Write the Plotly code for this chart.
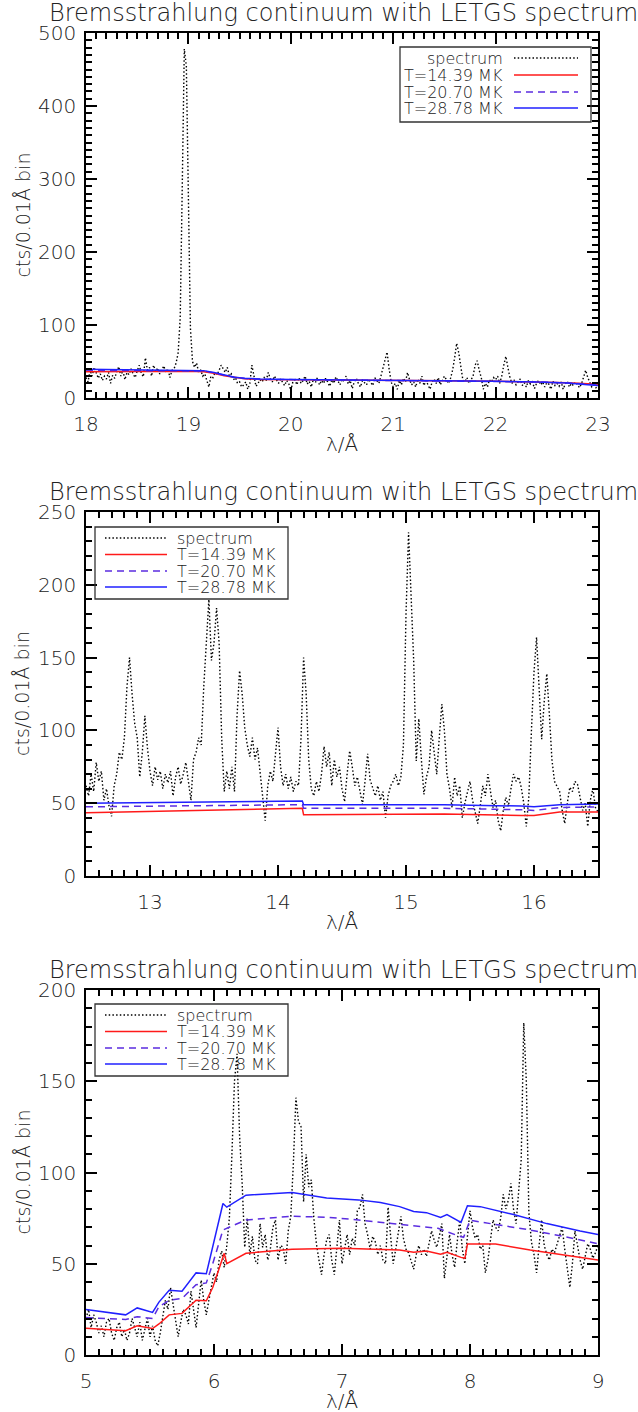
import numpy as np
import plotly.graph_objects as go

W, H = 638, 1412
FONT = "DejaVu Sans"
INK = "#222222"
AXIS = "#000000"
RED = "#ff1a1a"
PURPLE = "#5b2de0"
BLUE = "#2020ff"

TITLE = "Bremsstrahlung continuum with LETGS spectrum"
XTITLE = "λ/Å"
YTITLE = "cts/0.01Å bin"
LEG_NAMES = ["spectrum", "T=14.39 MK", "T=20.70 MK", "T=28.78 MK"]

# ---------------- panel 1 : 18 - 23 Å ----------------
wl1_start, wl1_step = 18.0, 0.02
spec1 = [
    28, 22, 38, 30, 42, 35, 27, 33, 24, 30,
    26, 35, 20, 31, 27, 36, 43, 30, 38, 25,
    35, 32, 40, 33, 28, 37, 45, 34, 29, 55,
    38, 42, 30, 45, 36, 41, 33, 38, 44, 35,
    40, 28, 38, 40, 48, 62, 110, 290, 478, 455,
    300, 95, 50, 42, 48, 35, 38, 30, 33, 25,
    15, 30, 28, 35, 32, 38, 45, 40, 35, 42,
    30, 33, 25, 28, 20, 22, 15, 18, 22, 12,
    20, 45, 30, 16, 20, 25, 22, 28, 24, 35,
    26, 22, 30, 25, 20, 26, 22, 17, 24, 20,
    10, 22, 25, 18, 28, 20, 24, 30, 19, 23,
    15, 26, 21, 28, 18, 24, 20, 27, 22, 16,
    25, 20, 29, 23, 18, 26, 22, 30, 19, 24,
    13, 22, 27, 20, 15, 24, 21, 18, 26, 22,
    17, 28, 24, 20, 30, 42, 55, 63, 40, 22,
    15, 20, 12, 24, 18, 27, 22, 35, 25, 18,
    22, 15, 26, 20, 30, 17, 24, 19, 12, 22,
    26, 20, 28, 18, 23, 30, 25, 20, 27, 38,
    55, 75, 62, 42, 25, 22, 28, 20, 25, 30,
    45, 51, 38, 28, 12, 20, 15, 25, 22, 28,
    25, 30, 20, 30, 45, 57, 42, 28, 20, 24,
    18, 22, 26, 17, 21, 15, 24, 19, 22, 13,
    20, 24, 18, 22, 15, 21, 19, 12, 23, 17,
    20, 16, 22, 12, 19, 23, 15, 20, 17, 22,
    18, 14, 20, 30, 38, 28, 20, 15, 18, 14,
    16,
]
wl1 = np.round(wl1_start + wl1_step * np.arange(len(spec1)), 2)

m1_wl = [18.0, 18.5, 19.0, 19.15, 19.25, 19.35, 19.45, 19.55, 19.7,
         20.0, 20.5, 21.0, 21.5, 22.0, 22.4, 22.7, 22.9, 23.0]
m1_t14 = [36, 36.5, 36.5, 36, 34, 30.5, 28, 26.5, 25.5,
          25, 24.5, 24, 23.5, 23, 22, 21, 19.5, 19]
m1_t20 = [38, 38, 37.5, 37, 34.5, 31, 28.2, 26.7, 25.7,
          25.2, 24.7, 24.2, 23.7, 23, 22, 20.7, 18.7, 18]
m1_t28 = [39.5, 39, 38.5, 37.5, 35, 31.5, 28.5, 27, 26,
          25.5, 25, 24.5, 24, 23, 22, 20.5, 18, 17]

# ---------------- panel 2 : 12.5 - 16.5 Å ----------------
wl2_start, wl2_step = 12.5, 0.02
spec2 = [
    62, 55, 70, 58, 78, 65, 72, 52, 60, 48,
    41, 62, 70, 85, 80, 95, 130, 150, 125, 105,
    95, 68, 85, 110, 88, 72, 62, 75, 66, 72,
    60, 70, 64, 72, 55, 68, 75, 63, 70, 78,
    65, 52, 80, 85, 95, 90, 130, 165, 190, 148,
    160, 184, 160, 95, 58, 72, 60, 75, 58, 110,
    141, 125, 102, 90, 82, 95, 80, 88, 72, 55,
    38, 62, 72, 65, 85, 102, 75, 62, 70, 60,
    68, 58, 65, 62, 95, 150, 125, 80, 60, 55,
    65, 58, 70, 89, 75, 85, 62, 80, 68, 75,
    60, 51, 70, 86, 75, 62, 68, 58, 49, 65,
    84, 66, 60, 55, 62, 52, 58, 40, 55, 62,
    65, 70, 62, 68, 90, 180, 236, 195, 148, 79,
    108, 80, 56, 68, 75, 100, 85, 70, 95, 118,
    100, 70, 60, 47, 68, 55, 62, 40, 50, 58,
    65, 52, 45, 36, 48, 62, 55, 70, 58, 47,
    52, 38, 31, 45, 54, 48, 60, 70, 65, 68,
    61, 50, 34, 55, 100, 140, 164, 130, 94, 120,
    139, 111, 80, 65, 62, 58, 45, 36, 50, 61,
    58, 65, 63, 55, 45, 50, 34, 52, 60, 47,
    44,
]
wl2 = np.round(wl2_start + wl2_step * np.arange(len(spec2)), 2)

m2_wl = [12.5, 14.19, 14.2, 15.3, 15.9, 16.0, 16.2, 16.5]
m2_t14 = [43.5, 46.5, 42, 42.5, 41.5, 41.5, 44, 44]
m2_t20 = [47.5, 49, 46.5, 46.5, 45.5, 45, 47, 47.5]
m2_t28 = [50, 51.5, 49, 49, 48, 47.5, 49, 49.5]

# ---------------- panel 3 : 5 - 9 Å ----------------
wl3_start, wl3_step = 5.0, 0.02
spec3 = [
    20, 25, 15, 22, 18, 12, 16, 10, 18, 20,
    12, 8, 15, 18, 10, 14, 8, 12, 20, 15,
    10, 18, 8, 14, 20, 10, 16, 8, 5, 12,
    22, 30, 25, 37, 28, 20, 10, 18, 25, 22,
    17, 35, 26, 15, 28, 41, 30, 22, 30, 38,
    45, 40, 52, 57, 48, 60, 75, 110, 150, 165,
    120, 94, 59, 75, 55, 65, 52, 50, 72, 59,
    66, 52, 58, 70, 74, 52, 60, 59, 50, 68,
    76, 105, 141, 128, 125, 84, 110, 92, 96, 75,
    61, 52, 44, 55, 63, 66, 52, 44, 58, 74,
    50, 59, 66, 55, 64, 60, 79, 81, 88, 72,
    66, 58, 65, 62, 55, 60, 52, 50, 81, 65,
    50, 58, 66, 76, 64, 58, 56, 52, 47, 55,
    60, 55, 58, 54, 62, 68, 63, 59, 65, 72,
    42, 55, 66, 55, 48, 62, 74, 58, 50, 65,
    79, 70, 64, 66, 58, 60, 45, 52, 63, 74,
    70, 68, 75, 88, 80, 85, 94, 80, 72, 90,
    107, 182, 150, 78, 62, 55, 45, 60, 74, 60,
    55, 52, 58, 56, 61, 65, 70, 58, 48, 37,
    50, 68, 60, 52, 47, 55, 61, 58, 53, 56,
    60,
]
wl3 = np.round(wl3_start + wl3_step * np.arange(len(spec3)), 2)

m3_wl_t14 = [5.0, 5.31, 5.4, 5.52, 5.57, 5.65, 5.75, 5.86, 5.94, 5.99, 6.08, 6.1,
             6.25, 6.61, 7.0, 7.3, 7.45, 7.56, 7.66, 7.77, 7.82, 7.93, 7.96, 7.98,
             8.2, 8.47, 8.73, 9.0]
m3_t14 = [14.6, 13.3, 16, 14.5, 17, 22, 22.8, 30, 29.7, 37, 55.7, 50,
          55.7, 58, 58.5, 58, 57.5, 56.3, 57, 55.2, 56.3, 53.5, 53, 60.8,
          60.8, 57.5, 54.8, 52]
m3_wl_t20 = [5.0, 5.31, 5.4, 5.52, 5.57, 5.65, 5.75, 5.86, 5.94, 5.99, 6.07,
             6.25, 6.61, 6.88, 7.13, 7.43, 7.75, 7.9, 7.95, 8.0, 8.26, 8.47,
             8.73, 9.0]
m3_t20 = [20.5, 19.5, 21, 20, 26.5, 30, 31, 38.5, 39.5, 50, 68.5,
          74, 76, 75.5, 74, 71.6, 69.4, 65.5, 64.5, 73.8, 71, 68.5,
          65, 61]
m3_wl_t28 = [5.0, 5.31, 5.4, 5.52, 5.57, 5.65, 5.75, 5.86, 5.94, 5.99, 6.07,
             6.1, 6.25, 6.61, 6.88, 7.13, 7.3, 7.45, 7.56, 7.66, 7.77, 7.82,
             7.87, 7.93, 7.98, 8.08, 8.34, 8.6, 8.86, 9.0]
m3_t28 = [25, 22, 25.8, 23.3, 29, 35.5, 35, 45, 44.5, 59, 83,
          81, 87.6, 89, 86, 85, 83.5, 81.3, 78.6, 78, 75.4, 77,
          74.9, 72.7, 81.8, 81.3, 77, 72, 67.9, 66]


def fx(p):
    return p / W


def fy(p):
    return 1 - p / H


# plot boxes in page pixels: (left, right, top, bottom)
BOXES = [(86, 598, 33, 398), (86, 598, 512, 876), (86, 598, 990, 1355)]

fig = go.Figure()

panels = [
    dict(spec=(wl1, spec1),
         models=[(m1_wl, m1_t14), (m1_wl, m1_t20), (m1_wl, m1_t28)],
         xr=[18, 23], yr=[0, 500], xt0=18, ydt=100, ymin=10),
    dict(spec=(wl2, spec2),
         models=[(m2_wl, m2_t14), (m2_wl, m2_t20), (m2_wl, m2_t28)],
         xr=[12.5, 16.5], yr=[0, 250], xt0=13, ydt=50, ymin=10),
    dict(spec=(wl3, spec3),
         models=[(m3_wl_t14, m3_t14), (m3_wl_t20, m3_t20), (m3_wl_t28, m3_t28)],
         xr=[5, 9], yr=[0, 200], xt0=5, ydt=50, ymin=10),
]

model_styles = [dict(color=RED, width=1.5, dash="solid"),
                dict(color=PURPLE, width=1.5, dash="7px,5px"),
                dict(color=BLUE, width=1.5, dash="solid")]
spec_style = dict(color="#000000", width=1.4, dash="1.5px,2.2px")

LIGHT = 300
tick_font = dict(family=FONT, size=20, color=INK, weight=LIGHT)
axis_common = dict(showline=True, linecolor=AXIS, linewidth=1.5, mirror="ticks",
                   ticks="inside", ticklen=11, tickwidth=1.8, tickcolor=AXIS,
                   showgrid=False, zeroline=False, automargin=False,
                   tickfont=tick_font)
minor_common = dict(ticks="inside", ticklen=6, tickwidth=1.5, tickcolor=AXIS,
                    showgrid=False)

for i, p in enumerate(panels):
    n = "" if i == 0 else str(i + 1)
    xa, ya = "x" + n, "y" + n
    fig.add_trace(go.Scatter(x=p["spec"][0], y=p["spec"][1], mode="lines",
                             line=spec_style, xaxis=xa, yaxis=ya,
                             name=LEG_NAMES[0], hoverinfo="skip"))
    for (mx, my), st, nm in zip(p["models"], model_styles, LEG_NAMES[1:]):
        fig.add_trace(go.Scatter(x=mx, y=my, mode="lines", line=st,
                                 xaxis=xa, yaxis=ya, name=nm, hoverinfo="skip"))
    l, r, t, b = BOXES[i]
    fig.layout["xaxis" + n] = dict(
        axis_common, domain=[fx(l), fx(r)], range=p["xr"], anchor=ya,
        tick0=p["xt0"], dtick=1, ticklabelstandoff=7,
        minor=dict(minor_common, dtick=0.1))
    fig.layout["yaxis" + n] = dict(
        axis_common, domain=[fy(b), fy(t)], range=p["yr"], anchor=xa,
        tick0=0, dtick=p["ydt"], ticklabelstandoff=4,
        minor=dict(minor_common, dtick=p["ymin"]))

    # titles
    fig.add_annotation(text=TITLE, x=fx((l + r) / 2 + 1), y=fy(t - 20),
                       xref="paper", yref="paper", showarrow=False,
                       xanchor="center", yanchor="middle",
                       font=dict(family=FONT, size=24, color=INK, weight=LIGHT))
    fig.add_annotation(text=XTITLE, x=fx((l + r) / 2), y=fy(b + 46),
                       xref="paper", yref="paper", showarrow=False,
                       xanchor="center", yanchor="middle",
                       font=dict(family=FONT, size=20, color=INK, weight=LIGHT))
    fig.add_annotation(text=YTITLE, x=fx(22), y=fy((t + b) / 2),
                       xref="paper", yref="paper", showarrow=False,
                       textangle=-90, xanchor="center", yanchor="middle",
                       font=dict(family=FONT, size=19, color=INK, weight=LIGHT))

# legends (key lines and labels), drawn in page pixels
leg_line_styles = [spec_style] + model_styles


def draw_legend(box, rows, key_x, text_x, text_anchor):
    x0, x1, y0, y1 = box
    fig.add_shape(type="rect", xref="paper", yref="paper",
                  x0=fx(x0), x1=fx(x1), y0=fy(y1), y1=fy(y0),
                  line=dict(color="#333333", width=1.3), fillcolor="rgba(0,0,0,0)")
    for name, yy, st in zip(LEG_NAMES, rows, leg_line_styles):
        fig.add_shape(type="line", xref="paper", yref="paper",
                      x0=fx(key_x[0]), x1=fx(key_x[1]), y0=fy(yy), y1=fy(yy),
                      line=st)
        fig.add_annotation(text=name, x=fx(text_x), y=fy(yy),
                           xref="paper", yref="paper", showarrow=False,
                           xanchor=text_anchor, yanchor="middle",
                           font=dict(family=FONT, size=16, color=INK, weight=LIGHT))


draw_legend((400, 591, 47, 122), [58, 75, 92, 108], (514, 578), 505, "right")
draw_legend((95, 288, 527, 599), [538, 554.5, 571, 587], (105, 167), 175, "left")
draw_legend((95, 288, 1004, 1076), [1015, 1031.5, 1048, 1064], (105, 167), 175, "left")

fig.update_layout(width=W, height=H, margin=dict(l=0, r=0, t=0, b=0),
                  paper_bgcolor="white", plot_bgcolor="white",
                  showlegend=False)

fig.write_html("out.html")
